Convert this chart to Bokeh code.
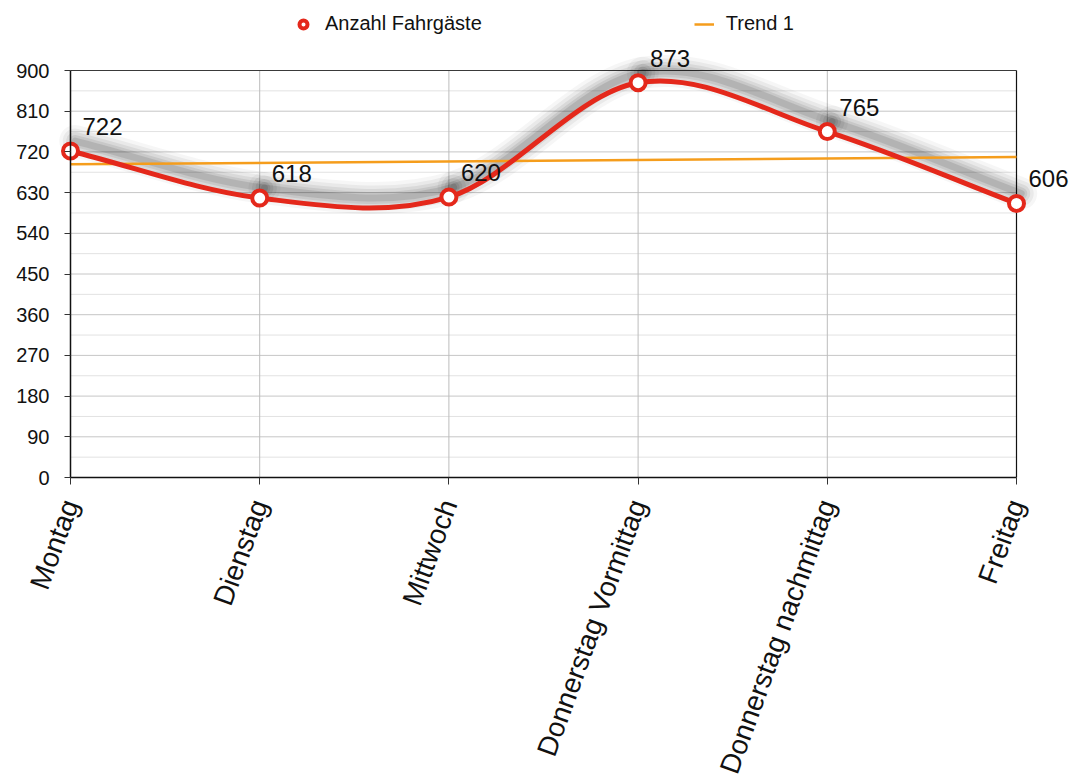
import numpy as np
from bokeh.plotting import figure
from bokeh.models import Range1d, FixedTicker, Legend, LegendItem, ColumnDataSource
from bokeh.core.properties import value
from bokeh.embed import file_html
from bokeh.resources import INLINE

# --- data -------------------------------------------------------------
categories = ["Montag", "Dienstag", "Mittwoch", "Donnerstag Vormittag",
              "Donnerstag nachmittag", "Freitag"]
fahrgaeste = [722, 618, 620, 873, 765, 606]
y_ticks = [0, 90, 180, 270, 360, 450, 540, 630, 720, 810, 900]
series_name = "Anzahl Fahrgäste"
trend_name = "Trend 1"

FONT = "Liberation Sans"
RED = "#e4281b"
ORANGE = "#f59d1c"
BORDER = "#3a3a3a"

# page geometry (pixels): chart box spans 70..1016 horizontally, 70..477 vertically
W, H = 1072, 780
BOX_L, BOX_R, BOX_T, BOX_B = 70, 1016, 70, 477

x = np.arange(len(categories), dtype=float)
y = np.array(fahrgaeste, dtype=float)

# the frame covers the whole page, so markers, value labels, tick labels
# and the legend are never clipped; the axes sit at fixed data locations
px_x = (BOX_R - BOX_L) / (x[-1] - x[0])
px_y = (BOX_B - BOX_T) / (y_ticks[-1] - y_ticks[0])
x_range = Range1d(x[0] - BOX_L / px_x, x[-1] + (W - BOX_R) / px_x)
y_range = Range1d(y_ticks[0] - (H - BOX_B) / px_y, y_ticks[0] + BOX_B / px_y)

# Smooth curve: cubic Bezier segments with Catmull-Rom tangents
m = np.empty_like(y)
m[1:-1] = (y[2:] - y[:-2]) / 2.0
m[0] = y[1] - y[0]
m[-1] = y[-1] - y[-2]


def segments(dx=0.0, dy=0.0):
    return ColumnDataSource(dict(
        x0=x[:-1] + dx, y0=y[:-1] + dy,
        x1=x[1:] + dx, y1=y[1:] + dy,
        cx0=x[:-1] + 1 / 3 + dx, cy0=y[:-1] + m[:-1] / 3 + dy,
        cx1=x[1:] - 1 / 3 + dx, cy1=y[1:] - m[1:] / 3 + dy,
    ))


# linear trend of the series
slope, intercept = np.polyfit(x, y, 1)
trend_x = [x[0], x[-1]]
trend_y = [intercept + slope * x[0], intercept + slope * x[-1]]

# --- figure -----------------------------------------------------------
p = figure(width=W, height=H, output_backend="svg", toolbar_location=None,
           x_range=x_range, y_range=y_range, min_border=0)
p.background_fill_color = "white"
p.border_fill_color = "white"
p.outline_line_color = None
p.grid.visible = False

# horizontal grid: major lines at the ticks, lighter lines halfway between
minor = [(a + b) / 2 for a, b in zip(y_ticks[:-1], y_ticks[1:])]
p.segment(x0=x[0], x1=x[-1], y0=minor, y1=minor, line_color="#e2e2e2", line_width=1)
p.segment(x0=x[0], x1=x[-1], y0=y_ticks[1:-1], y1=y_ticks[1:-1],
          line_color="#c6c6c6", line_width=1)
# vertical grid at the categories
p.segment(x0=x[1:-1], x1=x[1:-1], y0=y_ticks[0], y1=y_ticks[-1],
          line_color="#bcbcbc", line_width=1)
# box border on top and right
p.line([x[0], x[-1]], [y_ticks[-1], y_ticks[-1]], line_color=BORDER, line_width=1)
p.line([x[-1], x[-1]], [y_ticks[0], y_ticks[-1]], line_color="#111111", line_width=1.2)

# axes
p.yaxis.fixed_location = x[0]
p.yaxis.bounds = (y_ticks[0], y_ticks[-1])
p.yaxis.ticker = FixedTicker(ticks=y_ticks)
p.xaxis.fixed_location = y_ticks[0]
p.xaxis.bounds = (x[0], x[-1])
p.xaxis.ticker = FixedTicker(ticks=list(x))
for ax in (p.xaxis, p.yaxis):
    ax.axis_line_color = "#111111"
    ax.axis_line_width = 1.5
    ax.major_tick_line_color = "#333333"
    ax.major_tick_in = 0
    ax.minor_tick_line_color = None
    ax.major_label_text_font = FONT
    ax.major_label_text_color = "#111111"

p.yaxis.major_tick_out = 6
p.yaxis.major_label_standoff = 15
p.yaxis.major_label_text_font_size = "20px"

p.xaxis.major_tick_out = 7
p.xaxis.major_label_standoff = 16
p.xaxis.major_label_text_font_size = "28px"
p.xaxis.major_label_orientation = np.deg2rad(70)
p.xaxis.major_label_overrides = {int(i): c for i, c in enumerate(categories)}

# soft drop shadow, cast up and slightly to the right of the curve
shadow = segments(dx=0.025, dy=22)
for w, a in [(32, 0.035), (25, 0.05), (18, 0.065), (12, 0.08), (7, 0.1)]:
    p.bezier(x0="x0", y0="y0", x1="x1", y1="y1", cx0="cx0", cy0="cy0",
             cx1="cx1", cy1="cy1", source=shadow, line_color="black",
             line_alpha=a, line_width=w, line_cap="round")

# trend line
trend_r = p.line(trend_x, trend_y, line_color=ORANGE, line_width=2.5)

# main curve
p.bezier(x0="x0", y0="y0", x1="x1", y1="y1", cx0="cx0", cy0="cy0",
         cx1="cx1", cy1="cy1", source=segments(), line_color=RED,
         line_width=5, line_cap="round")

pts = ColumnDataSource(dict(x=x, y=y, label=[str(v) for v in fahrgaeste]))
pts_r = p.scatter("x", "y", source=pts, size=15, fill_color="white",
                  line_color=RED, line_width=4)

p.text("x", "y", text="label", source=pts, x_offset=12, y_offset=-16,
       text_baseline="bottom", text_align="left",
       text_font=value(FONT), text_font_size="24px", text_color="#111111")

# legend above the chart box
legend = Legend(items=[LegendItem(label=series_name, renderers=[pts_r]),
                       LegendItem(label=trend_name, renderers=[trend_r])],
                orientation="horizontal", location=(293, H - 35),
                spacing=212, glyph_width=20, glyph_height=20,
                label_standoff=12, padding=0, margin=0,
                border_line_alpha=0, background_fill_alpha=0,
                label_text_font=FONT, label_text_font_size="20px",
                label_text_color="#111111")
p.add_layout(legend)

open("out.html", "w").write(file_html(p, INLINE))
